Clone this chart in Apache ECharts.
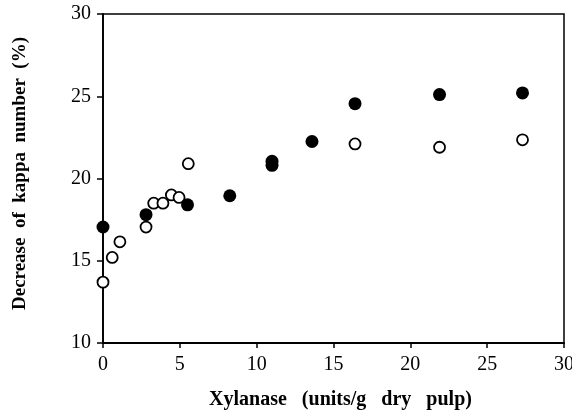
<!DOCTYPE html>
<html>
<head>
<meta charset="utf-8">
<script src="https://cdn.jsdelivr.net/npm/echarts@6/dist/echarts.min.js"></script>
<style>html,body{margin:0;padding:0;background:#fff;}#c{width:572px;height:412px;}</style>
</head>
<body>
<div id="c"></div>
<script>
// Open circles (x = xylanase dose, y = decrease of kappa number %)
const openX = [0, 0.6, 1.1, 2.8, 3.3, 3.9, 4.45, 4.95, 5.55, 16.4, 21.9, 27.3];
const openY = [13.7, 15.2, 16.15, 17.05, 18.5, 18.5, 19.0, 18.85, 20.9, 22.1, 21.9, 22.35];
// Filled circles
const filledX = [0, 2.8, 5.5, 8.25, 11.0, 11.0, 13.6, 16.4, 21.9, 27.3];
const filledY = [17.05, 17.8, 18.4, 18.95, 20.8, 21.05, 22.25, 24.55, 25.1, 25.2];
const xTicks = {min: 0, max: 30, interval: 5};
const yTicks = {min: 10, max: 30, interval: 5};
const xTitle = 'Xylanase   (units/g   dry   pulp)';
const yTitle = 'Decrease  of  kappa  number  (%)';

const pairs = (xs, ys) => xs.map((x, i) => [x, ys[i]]);
const serif = 'Liberation Serif';
const chart = echarts.init(document.getElementById('c'), null, {renderer: 'canvas'});
chart.setOption({
  animation: false,
  backgroundColor: '#fff',
  grid: {left: 103, right: 8, top: 14, bottom: 69, containLabel: false, outerBoundsMode: 'none',
         show: true, borderColor: '#000', borderWidth: 1.5, backgroundColor: 'transparent'},
  xAxis: {
    type: 'value', min: xTicks.min, max: xTicks.max, interval: xTicks.interval,
    axisLine: {show: true, onZero: false, lineStyle: {color: '#000', width: 1.8}},
    axisTick: {show: true, inside: false, length: 5, lineStyle: {color: '#000', width: 1.5}},
    axisLabel: {color: '#000', fontFamily: serif, fontSize: 20, margin: 12},
    splitLine: {show: false},
    name: xTitle, nameLocation: 'middle', nameGap: 47,
    nameTextStyle: {color: '#000', fontFamily: serif, fontWeight: 'bold', fontSize: 20, padding: [0, 0, 0, 14]}
  },
  yAxis: {
    type: 'value', min: yTicks.min, max: yTicks.max, interval: yTicks.interval,
    axisLine: {show: true, onZero: false, lineStyle: {color: '#000', width: 1.8}},
    axisTick: {show: true, inside: false, length: 6, lineStyle: {color: '#000', width: 1.5}},
    axisLabel: {color: '#000', fontFamily: serif, fontSize: 20, margin: 12},
    splitLine: {show: false},
    name: yTitle, nameLocation: 'middle', nameGap: 73,
    nameTextStyle: {color: '#000', fontFamily: serif, fontWeight: 'bold', fontSize: 19, padding: [0, 0, 0, 10]}
  },
  series: [
    {type: 'scatter', data: pairs(openX, openY), symbol: 'circle', symbolSize: 11,
     itemStyle: {color: '#fff', borderColor: '#000', borderWidth: 1.8, opacity: 1}},
    {type: 'scatter', data: pairs(filledX, filledY), symbol: 'circle', symbolSize: 13,
     itemStyle: {color: '#000', borderColor: '#000', borderWidth: 0, opacity: 1}}
  ]
});
</script>
</body>
</html>
